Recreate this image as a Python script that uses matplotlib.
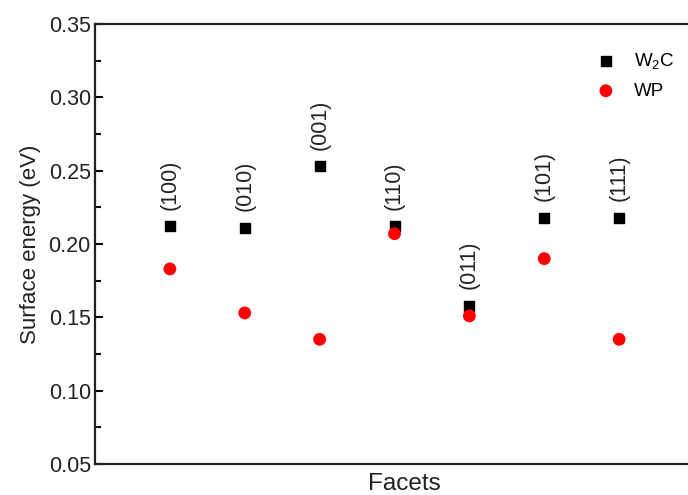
import numpy as np
import matplotlib
matplotlib.use('Agg')
import matplotlib.pyplot as plt
from matplotlib.ticker import MultipleLocator

plt.rcParams['font.family'] = ['Liberation Sans', 'DejaVu Sans']
plt.rcParams['mathtext.default'] = 'regular'

facets = ['(100)', '(010)', '(001)', '(110)', '(011)', '(101)', '(111)']
w2c = [0.212, 0.211, 0.253, 0.212, 0.158, 0.218, 0.218]
wp = [0.183, 0.153, 0.135, 0.207, 0.151, 0.190, 0.135]

x = np.arange(1, len(facets) + 1)

fig = plt.figure(figsize=(6.88, 4.95), dpi=100)
ax = fig.add_axes([95 / 688, 31 / 495, 599 / 688, 440 / 495])

ax.scatter(x, w2c, marker='s', s=52, color='black', label='W$_2$C', zorder=3)
ax.scatter(x, wp, marker='o', s=85, color='red', edgecolors='none', label='WP', zorder=4)

for xi, yi, lab in zip(x, w2c, facets):
    ax.annotate(lab, (xi, yi), xytext=(0, 12), textcoords='offset points',
                rotation=90, ha='center', va='bottom', fontsize=15.5, color='#222222')

ax.set_xlim(0, 8)
ax.set_ylim(0.05, 0.35)
ax.yaxis.set_minor_locator(MultipleLocator(0.025))
ax.set_yticks(np.arange(0.05, 0.351, 0.05))
ax.set_yticklabels(['%.2f' % v for v in np.arange(0.05, 0.351, 0.05)])
ax.set_xticks([])
ax.tick_params(axis='y', which='major', direction='in', length=6, width=1.5,
               labelsize=15.5, pad=3, labelcolor='#222222')
ax.tick_params(axis='y', which='minor', direction='in', length=4, width=1.5)

ax.spines['right'].set_visible(False)
for s in ['left', 'bottom', 'top']:
    ax.spines[s].set_linewidth(1.6)
    ax.spines[s].set_color('#222222')

ax.set_ylabel('Surface energy (eV)', fontsize=16, color='#222222')
ax.yaxis.set_label_coords(-0.09, 0.5)
ax.set_xlabel('Facets', fontsize=17.5, color='#222222')
ax.xaxis.set_label_coords((404 - 95) / 599, -0.02)

leg = ax.legend(loc='upper right', bbox_to_anchor=((682 - 95) / 599, 0.955),
                frameon=False, fontsize=13.5, handletextpad=0.5, labelspacing=0.6,
                borderaxespad=0)

fig.savefig('out.png', dpi=100)
